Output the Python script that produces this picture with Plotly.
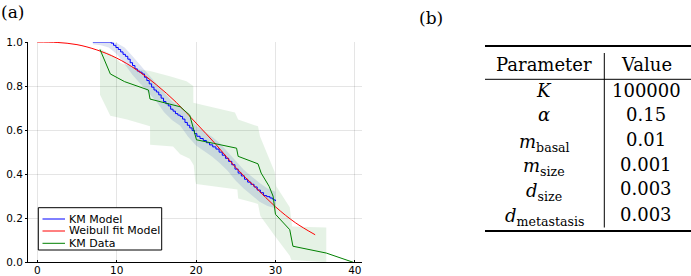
import plotly.graph_objects as go

# ---------------- data ----------------
km_model_t = [7.0, 9.3, 9.6, 9.9, 10.2, 10.5, 10.8, 11.1, 11.4, 11.7, 12.0, 12.3, 12.6, 12.9,
              13.2, 13.5, 13.8, 14.1, 14.4, 14.7, 15.0, 15.3, 15.6, 15.9, 16.2, 16.5, 16.8,
              17.1, 17.4, 17.7, 18.0, 18.3, 18.6, 18.9, 19.2, 19.5, 19.8, 20.1, 20.5, 20.9,
              21.3, 21.7, 22.1, 22.5, 22.9, 23.3, 23.7, 24.1, 24.5, 24.9, 25.3, 25.7, 26.1,
              26.5, 26.9, 27.3, 27.7, 28.1, 28.5, 28.9, 29.3, 29.6, 29.8, 30.0]
km_model_s = [1.0, 0.995, 0.985, 0.975, 0.966, 0.955, 0.944, 0.935, 0.922, 0.906, 0.893, 0.878,
              0.868, 0.863, 0.855, 0.84, 0.825, 0.81, 0.795, 0.782, 0.773, 0.76, 0.745, 0.73,
              0.72, 0.71, 0.695, 0.686, 0.675, 0.668, 0.662, 0.65, 0.635, 0.622, 0.61, 0.598,
              0.584, 0.572, 0.562, 0.553, 0.543, 0.533, 0.524, 0.514, 0.5, 0.486, 0.472, 0.458,
              0.443, 0.423, 0.405, 0.392, 0.377, 0.364, 0.354, 0.342, 0.328, 0.316, 0.303,
              0.298, 0.292, 0.287, 0.283, 0.278]

model_band_t = [7.0, 8.0, 9.0, 10.0, 11.0, 12.0, 13.0, 14.0, 15.0, 16.0, 17.0, 18.0,
                19.0, 20.0, 21.0, 22.0, 23.0, 24.0, 25.0, 26.0, 27.0, 28.0, 29.0, 30.0]
model_band_hi = [1.0, 1.0, 1.0, 0.995, 0.975, 0.935, 0.895, 0.855, 0.815, 0.77, 0.73, 0.705,
                 0.665, 0.62, 0.595, 0.57, 0.54, 0.5, 0.46, 0.42, 0.39, 0.36, 0.335, 0.32]
model_band_lo = [0.99, 0.985, 0.975, 0.945, 0.9, 0.85, 0.815, 0.77, 0.73, 0.68, 0.645, 0.62,
                 0.57, 0.53, 0.505, 0.48, 0.45, 0.415, 0.37, 0.335, 0.305, 0.275, 0.255, 0.245]

weibull_t = [0, 2.5, 5, 7.5, 10, 12.5, 15, 17.5, 20, 22.5, 25, 27.5, 30, 32.5, 35]
weibull_s = [1.0, 0.998, 0.988, 0.964, 0.927, 0.874, 0.806, 0.726, 0.632, 0.535, 0.43,
             0.34, 0.252, 0.18, 0.125]

km_data_t = [7.9, 8.3, 9.2, 11.0, 14.0, 14.2, 16.7, 18.0, 19.2, 20.05, 22.2, 25.1, 25.3,
             27.8, 28.2, 29.2, 29.7, 29.95, 30.0, 31.8, 32.2, 36.4, 39.8]
km_data_s = [0.966, 0.93, 0.855, 0.82, 0.782, 0.741, 0.716, 0.706, 0.668, 0.556, 0.54,
             0.518, 0.481, 0.447, 0.405, 0.345, 0.3, 0.24, 0.218, 0.148, 0.073, 0.042, 0.0]

data_band_hi_t = [7.9, 9.5, 10.5, 12.0, 13.0, 14.2, 16.7, 18.8, 19.65, 19.66, 24.9, 25.3,
                  27.8, 28.05, 29.9, 30.1, 31.8, 32.0, 32.1, 36.4, 36.4]
data_band_hi = [0.97, 0.94, 0.905, 0.885, 0.875, 0.868, 0.845, 0.822, 0.80, 0.724, 0.68,
                0.648, 0.617, 0.572, 0.41, 0.345, 0.25, 0.19, 0.162, 0.158, 0.0]
data_band_lo_t = [7.9, 8.5, 9.2, 11.3, 14.2, 14.21, 17.1, 18.0, 19.2, 19.7, 19.9, 20.0,
                  25.2, 25.3, 27.8, 28.1, 29.9, 31.8, 32.0, 36.4]
data_band_lo = [0.76, 0.72, 0.665, 0.648, 0.617, 0.534, 0.526, 0.49, 0.47, 0.44, 0.37,
                0.355, 0.33, 0.29, 0.265, 0.21, 0.12, 0.03, 0.01, 0.0]

x_ticks = [0, 10, 20, 30, 40]
y_ticks = [0.0, 0.2, 0.4, 0.6, 0.8, 1.0]
y_tick_text = ["0.0", "0.2", "0.4", "0.6", "0.8", "1.0"]

series_names = ["KM Model", "Weibull fit Model", "KM Data"]
series_colors = ["#0000ff", "#ff0000", "#008000"]

param_names = ["<i>K</i>", "<i>α</i>", "<i>m</i><sub>basal</sub>", "<i>m</i><sub>size</sub>",
               "<i>d</i><sub>size</sub>", "<i>d</i><sub>metastasis</sub>"]
param_values = ["100000", "0.15", "0.01", "0.001", "0.003", "0.003"]
header = ["Parameter", "Value"]

# ---------------- layout helpers (pixel -> paper, paper = whole figure) ----------------
W, H = 691, 276
PLOT_L, PLOT_R, PLOT_T, PLOT_B = 28, 362, 42, 262.3


def px(x):
    return x / W


def py(y):
    return (H - y) / H


fig = go.Figure()

# bands
fig.add_trace(go.Scatter(
    x=data_band_hi_t + data_band_lo_t[::-1], y=data_band_hi + data_band_lo[::-1],
    fill="toself", fillcolor="rgba(0,128,0,0.10)", line=dict(width=0),
    mode="lines", showlegend=False, hoverinfo="skip"))
fig.add_trace(go.Scatter(
    x=model_band_t + model_band_t[::-1], y=model_band_hi + model_band_lo[::-1],
    fill="toself", fillcolor="rgba(80,105,185,0.18)", line=dict(width=0),
    mode="lines", showlegend=False, hoverinfo="skip"))

# lines
fig.add_trace(go.Scatter(x=km_model_t, y=km_model_s, mode="lines", name=series_names[0],
                         line=dict(color=series_colors[0], width=1, shape="hv"), showlegend=False))
fig.add_trace(go.Scatter(x=weibull_t, y=weibull_s, mode="lines", name=series_names[1],
                         line=dict(color=series_colors[1], width=1, shape="spline"), showlegend=False))
fig.add_trace(go.Scatter(x=km_data_t, y=km_data_s, mode="lines", name=series_names[2],
                         line=dict(color=series_colors[2], width=1), showlegend=False))

axis_common = dict(showgrid=True, gridcolor="rgba(0,0,0,0.1)", gridwidth=0.5,
                   zeroline=False, showline=True, linecolor="black", linewidth=1,
                   tickwidth=1, tickcolor="black", automargin=False,
                   tickfont=dict(family="DejaVu Sans", size=10.5, color="black"))

fig.update_layout(
    width=W, height=H,
    margin=dict(l=0, r=0, t=0, b=0, pad=0, autoexpand=False),
    paper_bgcolor="white", plot_bgcolor="white",
    xaxis=dict(domain=[px(PLOT_L), px(PLOT_R)], range=[-1.17, 40.9], tickvals=x_ticks,
               ticks="inside", ticklen=2, ticklabelstandoff=-2, **axis_common),
    yaxis=dict(domain=[py(PLOT_B), py(PLOT_T)], range=[0, 1.0], tickvals=y_ticks,
               ticktext=y_tick_text, ticks="outside", ticklen=2, **axis_common),
    showlegend=False,
)

serif = dict(family="DejaVu Serif", size=18, color="black")
label_font = dict(family="DejaVu Serif", size=17, color="black")
legend_font = dict(family="DejaVu Sans", size=11, color="black")

annotations = [
    dict(x=px(12), y=py(12), text="(a)", font=label_font, xanchor="center"),
    dict(x=px(431), y=py(18.5), text="(b)", font=label_font, xanchor="center"),
    dict(x=px(544), y=py(64.5), text=header[0], font=serif, xanchor="center"),
    dict(x=px(646), y=py(64.5), text=header[1], font=serif, xanchor="center"),
]
row_y = [90, 114.5, 139.5, 164.5, 189, 214]
sub_shift = [0, 0, 3, 3, 3, 3]
for name, val, ry, sh in zip(param_names, param_values, row_y, sub_shift):
    annotations.append(dict(x=px(544), y=py(ry + sh), text=name, font=serif, xanchor="center"))
    annotations.append(dict(x=px(646), y=py(ry), text=val, font=serif, xanchor="center"))

# manual legend (compact, like the reference)
legend_rows = [219, 231, 243.3]
shapes = [dict(type="rect", x0=px(38.3), x1=px(161.7), y0=py(207.7), y1=py(250),
               line=dict(color="black", width=1), fillcolor="white", layer="above")]
for name, color, ly in zip(series_names, series_colors, legend_rows):
    shapes.append(dict(type="line", x0=px(42.5), x1=px(65), y0=py(ly), y1=py(ly),
                       line=dict(color=color, width=1), layer="above"))
    annotations.append(dict(x=px(67.5), y=py(ly), text=name, font=legend_font,
                            xanchor="left", borderpad=0))

for a in annotations:
    a.update(xref="paper", yref="paper", showarrow=False, yanchor="middle")

# table rules
shapes += [
    dict(type="line", x0=px(485), x1=px(691), y0=py(46), y1=py(46), line=dict(color="black", width=2)),
    dict(type="line", x0=px(485), x1=px(691), y0=py(79.3), y1=py(79.3), line=dict(color="black", width=1)),
    dict(type="line", x0=px(604.3), x1=px(604.3), y0=py(53), y1=py(227.5), line=dict(color="black", width=1)),
    dict(type="line", x0=px(485), x1=px(691), y0=py(231), y1=py(231), line=dict(color="black", width=2)),
]
for s in shapes:
    s.update(xref="paper", yref="paper")

fig.update_layout(annotations=annotations, shapes=shapes)

fig.write_html("out.html", config={"displayModeBar": False},
               post_script="document.body.style.margin='0px';document.body.style.overflow='hidden';")
